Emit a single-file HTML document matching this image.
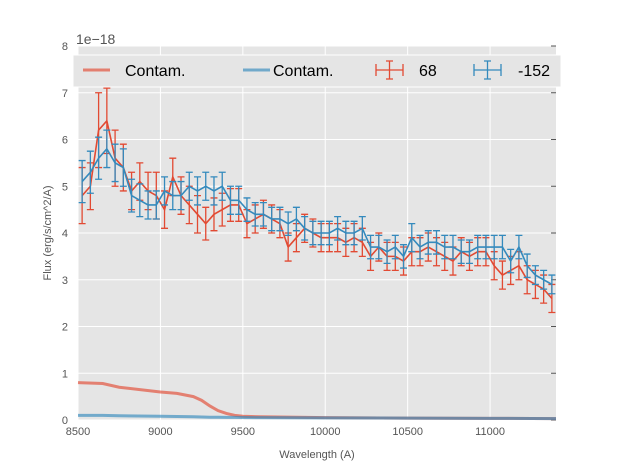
<!DOCTYPE html>
<html><head><meta charset="utf-8"><style>
body{margin:0;background:#fff;font-family:"Liberation Sans",sans-serif}
svg text{font-family:"Liberation Sans",sans-serif}
</style></head><body>
<svg id="c" width="617" height="467"></svg>
<script>
const redWave=[8525,8575,8625,8675,8725,8775,8825,8875,8925,8975,9025,9075,9125,9175,9225,9275,9325,9375,9425,9475,9525,9575,9625,9675,9725,9775,9825,9875,9925,9975,10025,10075,10125,10175,10225,10275,10325,10375,10425,10475,10525,10575,10625,10675,10725,10775,10825,10875,10925,10975,11025,11075,11125,11175,11225,11275,11325,11375];
const redFlux=[4.8,5.0,6.2,6.4,5.6,5.4,4.9,5.1,4.9,4.8,4.5,5.2,4.8,4.6,4.4,4.2,4.4,4.5,4.6,4.6,4.2,4.3,4.4,4.3,4.2,3.7,3.9,4.1,4.0,3.9,3.9,3.9,3.8,3.9,3.8,3.5,3.7,3.5,3.5,3.4,3.6,3.6,3.7,3.6,3.5,3.4,3.6,3.5,3.6,3.6,3.3,3.1,3.2,3.3,3.0,2.9,2.8,2.6];
const redErr=[0.6,0.5,0.8,0.7,0.6,0.5,0.4,0.4,0.4,0.5,0.4,0.4,0.4,0.4,0.4,0.35,0.35,0.35,0.35,0.35,0.3,0.3,0.3,0.3,0.3,0.3,0.3,0.3,0.3,0.3,0.3,0.3,0.3,0.3,0.3,0.3,0.3,0.3,0.3,0.3,0.3,0.3,0.3,0.3,0.3,0.3,0.3,0.3,0.3,0.3,0.3,0.3,0.3,0.3,0.3,0.3,0.3,0.3];
const blueWave=redWave;
const blueFlux=[5.1,5.3,5.6,5.8,5.5,5.4,4.8,4.7,4.6,4.6,4.9,4.8,4.8,5.0,4.9,5.0,4.9,5.0,4.7,4.7,4.5,4.4,4.4,4.3,4.3,4.2,4.3,4.1,4.0,4.0,4.0,4.1,4.0,4.0,4.1,3.7,3.7,3.6,3.7,3.5,3.9,3.7,3.8,3.8,3.7,3.7,3.6,3.6,3.7,3.7,3.7,3.7,3.4,3.7,3.3,3.1,3.0,2.9];
const blueErr=[0.45,0.45,0.45,0.4,0.4,0.4,0.35,0.35,0.3,0.3,0.3,0.3,0.3,0.3,0.3,0.3,0.3,0.3,0.3,0.3,0.25,0.25,0.25,0.25,0.25,0.25,0.25,0.25,0.25,0.25,0.25,0.25,0.25,0.25,0.25,0.25,0.25,0.25,0.25,0.25,0.3,0.25,0.25,0.25,0.25,0.25,0.25,0.25,0.25,0.25,0.25,0.25,0.25,0.25,0.25,0.2,0.2,0.2];
const contWave=[8500,8650,8750,9000,9100,9200,9250,9300,9350,9400,9450,9500,9600,10000,10500,11000,11400];
const contRed=[0.8,0.78,0.7,0.6,0.57,0.5,0.42,0.3,0.2,0.14,0.1,0.08,0.07,0.05,0.04,0.035,0.03];
const contBlue=[0.1,0.1,0.09,0.08,0.075,0.07,0.065,0.06,0.058,0.056,0.055,0.053,0.05,0.045,0.04,0.035,0.03];
const xTicks=[8500,9000,9500,10000,10500,11000];
const yTicks=[0,1,2,3,4,5,6,7,8];

const L=78,R=556,T=46,B=420,X0=8500,X1=11400,Y0=0,Y1=8;
const sx=v=>L+(v-X0)/(X1-X0)*(R-L), sy=v=>B-(v-Y0)/(Y1-Y0)*(B-T);
const svg=document.getElementById('c'),NS='http://www.w3.org/2000/svg';
function mk(t,a,p){const e=document.createElementNS(NS,t);for(const k in a)e.setAttribute(k,a[k]);(p||svg).appendChild(e);return e;}
let e=mk('rect',{x:L,y:T,width:R-L,height:B-T,fill:'#E5E5E5'});


xTicks.forEach(v=>{const x=sx(v);
 mk('line',{x1:x,x2:x,y1:T,y2:B,stroke:'#fff','stroke-width':1});
 const t=mk('text',{x:x,y:B+15,'text-anchor':'middle','font-size':11,fill:'#555'});t.textContent=v;
 
 });
yTicks.forEach(v=>{const y=sy(v);
 mk('line',{x1:L,x2:R,y1:y,y2:y,stroke:'#fff','stroke-width':1});
 mk('line',{x1:R-5,x2:R,y1:y,y2:y,stroke:'#555'});
 const t=mk('text',{x:L-10,y:y+4,'text-anchor':'end','font-size':11,fill:'#555'});t.textContent=v;
 
 });
function line(xs,ys,col,w,op,name){const d=xs.map((v,i)=>(i?'L':'M')+sx(v)+','+sy(ys[i])).join('');
 const p=mk('path',{d:d,fill:'none',stroke:col,'stroke-width':w,opacity:op});
 
 }
line(contWave,contRed,'#E24A33',3,0.65,'contam-68-line');
line(contWave,contBlue,'#348ABD',3,0.65,'contam-152-line');
function errs(xs,ys,es,col,name){const g=mk('g',{});
 
 
 xs.forEach((v,i)=>{const x=sx(v),y1=sy(ys[i]-es[i]),y2=sy(ys[i]+es[i]);
  mk('path',{d:`M${x},${y1}L${x},${y2}M${x-3.5},${y1}L${x+3.5},${y1}M${x-3.5},${y2}L${x+3.5},${y2}`,stroke:col,'stroke-width':1.3,fill:'none'},g);});
 line(xs,ys,col,1.6,1,name+'-line');}
errs(redWave,redFlux,redErr,'#E24A33','series-68');
errs(blueWave,blueFlux,blueErr,'#348ABD','series-152');
// legend
const lg=mk('g',{});


mk('rect',{x:73,y:55,width:488,height:32,fill:'#E5E5E5',stroke:'#fff'},lg);
mk('line',{x1:83,x2:110,y1:70,y2:70,stroke:'#E24A33','stroke-width':3,opacity:0.65},lg);
mk('line',{x1:243,x2:270,y1:70,y2:70,stroke:'#348ABD','stroke-width':3,opacity:0.65},lg);
[[376,'#E24A33'],[474,'#348ABD']].forEach(([x,c])=>{mk('path',{d:`M${x},70L${x+27},70M${x+13.5},61L${x+13.5},79M${x+10},61L${x+17},61M${x+10},79L${x+17},79M${x},64L${x},76M${x+27},64L${x+27},76`,stroke:c,'stroke-width':1.3,fill:'none'},lg);});
[[125,'Contam.'],[273,'Contam.'],[419,'68'],[518,'-152']].forEach(([x,s])=>{const t=mk('text',{x:x,y:76,'font-size':16,fill:'#000'},lg);t.textContent=s;
 
 });
let t=mk('text',{x:76,y:44,'font-size':14,fill:'#555'});t.textContent='1e\u221218';


t=mk('text',{x:317,y:458,'text-anchor':'middle','font-size':11,fill:'#555'});t.textContent='Wavelength (A)';


t=mk('text',{x:0,y:0,'text-anchor':'middle','font-size':11,fill:'#555',transform:'translate(51,233) rotate(-90)'});t.textContent='Flux (erg/s/cm^2/A)';


</script></body></html>
